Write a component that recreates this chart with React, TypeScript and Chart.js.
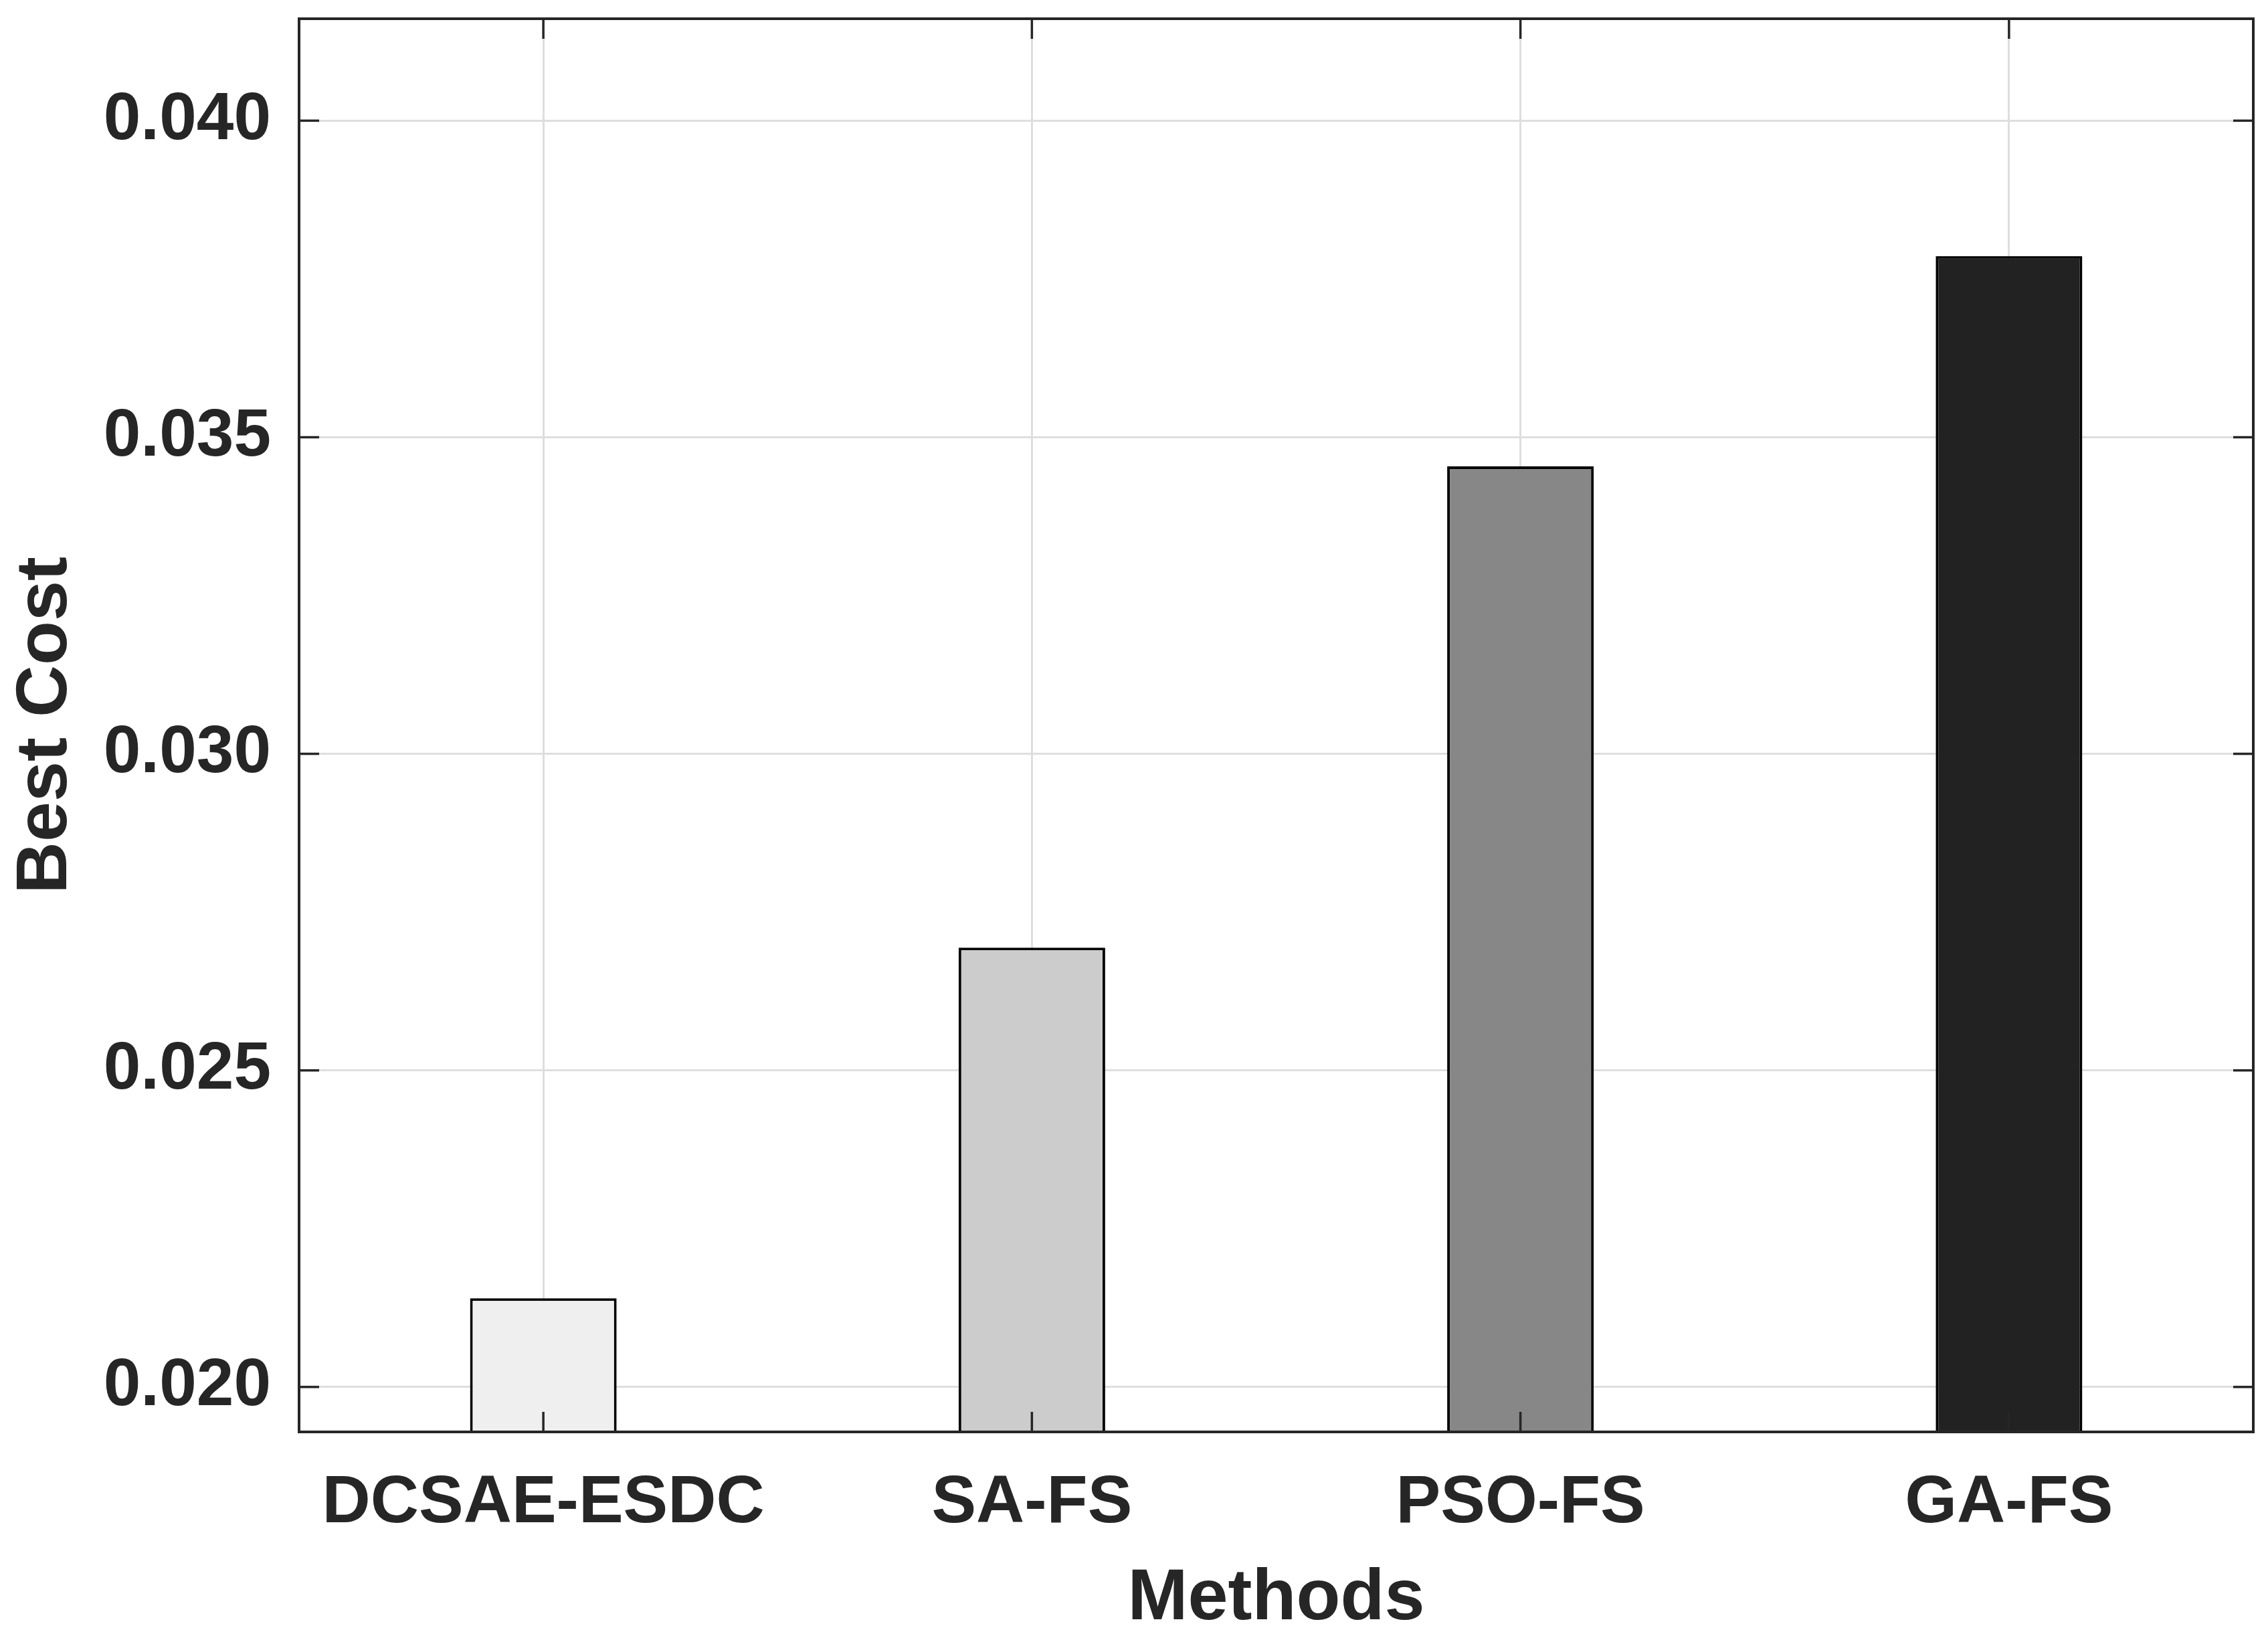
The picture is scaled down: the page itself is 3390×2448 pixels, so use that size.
import React, { useEffect, useRef } from "react";
import { Chart, registerables } from "chart.js";

Chart.register(...registerables);

const categories = ["DCSAE-ESDC", "SA-FS", "PSO-FS", "GA-FS"];
const bestCost = [0.0214, 0.02694, 0.03454, 0.03786];
const barColors = ["#efefef", "#cccccc", "#878787", "#222222"];
const yTicks = [0.02, 0.025, 0.03, 0.035, 0.04];
const yMin = 0.01929;
const yMax = 0.04161;

const AXIS_COLOR = "#262626";
const GRID_COLOR = "#dedede";
const FONT = "'Liberation Sans', Arial, Helvetica, sans-serif";
const TICK_LEN = 30;

const framePlugin = {
  id: "matlabFrame",
  afterDatasetsDraw(chart: any) {
    const { ctx, chartArea } = chart;
    const { left, right, top, bottom } = chartArea;
    const xs = chart.scales.x;
    const ys = chart.scales.y;
    ctx.save();
    ctx.strokeStyle = AXIS_COLOR;
    ctx.lineWidth = 3.5;
    ctx.lineCap = "butt";
    const line = (x1: number, y1: number, x2: number, y2: number) => {
      ctx.beginPath();
      ctx.moveTo(x1, y1);
      ctx.lineTo(x2, y2);
      ctx.stroke();
    };
    ys.ticks.forEach((t: any) => {
      const py = ys.getPixelForValue(t.value);
      line(left, py, left + TICK_LEN, py);
      line(right, py, right - TICK_LEN, py);
    });
    xs.ticks.forEach((_t: any, i: number) => {
      const px = xs.getPixelForValue(i);
      line(px, bottom, px, bottom - TICK_LEN);
      line(px, top, px, top + TICK_LEN);
    });
    ctx.lineWidth = 4;
    ctx.strokeRect(left, top, right - left, bottom - top);
    ctx.restore();
  },
};

export default function App() {
  const canvasRef = useRef<HTMLCanvasElement | null>(null);

  useEffect(() => {
    if (!canvasRef.current) return;
    const chart = new Chart(canvasRef.current, {
      type: "bar",
      data: {
        labels: categories,
        datasets: [
          {
            label: "Best Cost",
            data: bestCost,
            backgroundColor: barColors,
            borderColor: "#000000",
            borderWidth: 4,
            barPercentage: 0.3,
            categoryPercentage: 1,
            clip: 0 as any,
          },
        ],
      },
      options: {
        animation: false,
        responsive: true,
        maintainAspectRatio: false,
        devicePixelRatio: 1,
        layout: { padding: { top: 28, right: 22, left: 0, bottom: 0 } },
        plugins: {
          legend: { display: false },
          tooltip: { enabled: false },
        },
        scales: {
          x: {
            offset: true,
            grid: {
              display: true,
              offset: false,
              color: GRID_COLOR,
              lineWidth: 3,
              drawTicks: false,
            },
            border: { display: false },
            ticks: {
              color: AXIS_COLOR,
              padding: 47,
              maxRotation: 0,
              autoSkip: false,
              font: { family: FONT, size: 100, weight: "bold", lineHeight: 1.2 },
            },
            title: {
              display: true,
              text: "Methods",
              color: AXIS_COLOR,
              padding: { top: 0, bottom: 4 },
              font: { family: FONT, size: 108, weight: "bold", lineHeight: 1 },
            },
            afterFit: (scale: any) => {
              scale.height = 308;
              scale.paddingLeft = 0;
              scale.paddingRight = 0;
            },
          },
          y: {
            min: yMin,
            max: yMax,
            grid: {
              display: true,
              color: GRID_COLOR,
              lineWidth: 3,
              drawTicks: false,
            },
            border: { display: false },
            ticks: {
              color: AXIS_COLOR,
              padding: 42,
              includeBounds: false,
              font: { family: FONT, size: 100, weight: "bold", lineHeight: 1.2 },
              callback: (v: any) => Number(v).toFixed(3),
            },
            afterBuildTicks: (scale: any) => {
              scale.ticks = yTicks.map((v) => ({ value: v }));
            },
            title: {
              display: true,
              text: "Best Cost",
              color: AXIS_COLOR,
              padding: { top: 15, bottom: 0 },
              font: { family: FONT, size: 108, weight: "bold", lineHeight: 1 },
            },
            afterFit: (scale: any) => {
              scale.width = 447;
              scale.paddingTop = 0;
              scale.paddingBottom = 0;
            },
          },
        },
      },
      plugins: [framePlugin],
    });
    return () => chart.destroy();
  }, []);

  return (
    <div
      style={{
        position: "absolute",
        left: 0,
        top: 0,
        width: 3390,
        height: 2448,
        background: "#ffffff",
      }}
    >
      <canvas ref={canvasRef} />
    </div>
  );
}
